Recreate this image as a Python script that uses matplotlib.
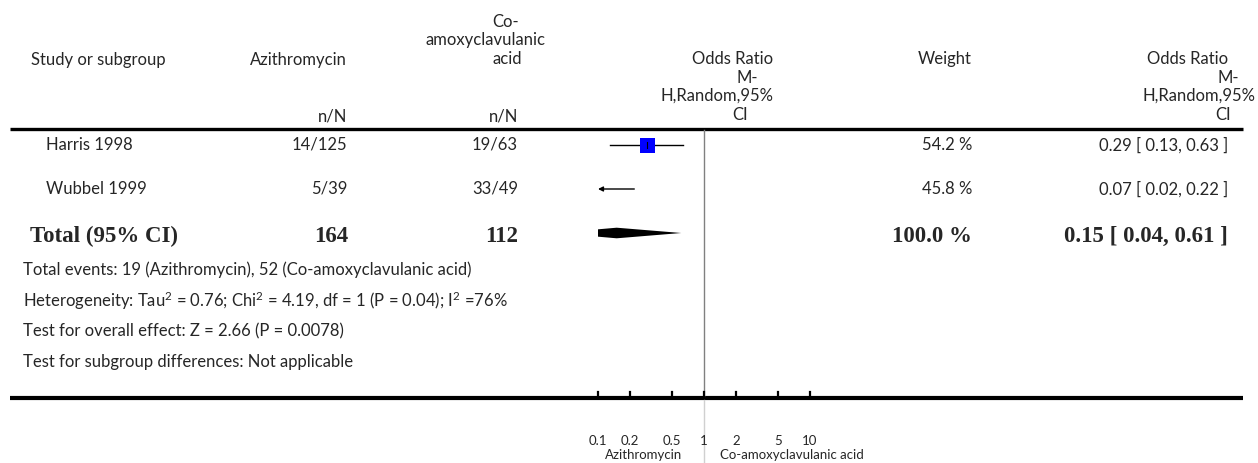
import numpy as np
import matplotlib
matplotlib.use('Agg')
import matplotlib.pyplot as plt

# data
studies = ['Harris 1998', 'Wubbel 1999']
azi_nN = ['14/125', '5/39']
coa_nN = ['19/63', '33/49']
weights = [54.2, 45.8]
or_est = [0.29, 0.07]
ci_lo = [0.13, 0.02]
ci_hi = [0.63, 0.22]
total_azi = 164
total_coa = 112
total_or = 0.15
total_lo = 0.04
total_hi = 0.61
ticks = [0.1, 0.2, 0.5, 1, 2, 5, 10]
tick_labels = ['0.1', '0.2', '0.5', '1', '2', '5', '10']
footer = [
    'Total events: 19 (Azithromycin), 52 (Co-amoxyclavulanic acid)',
    'Heterogeneity: Tau$^2$ = 0.76; Chi$^2$ = 4.19, df = 1 (P = 0.04); I$^2$ =76%',
    'Test for overall effect: Z = 2.66 (P = 0.0078)',
    'Test for subgroup differences: Not applicable',
]

W, H = 1258, 463
plt.rcParams['font.family'] = ['Lato', 'DejaVu Sans']
plt.rcParams['mathtext.fontset'] = 'custom'
plt.rcParams['mathtext.rm'] = 'Lato'
plt.rcParams['mathtext.it'] = 'Lato'
fig = plt.figure(figsize=(W / 100, H / 100), dpi=100)

bg = fig.add_axes([0, 0, 1, 1])
bg.set_xlim(0, W)
bg.set_ylim(H, 0)
bg.axis('off')

fs = 12
col = '#262626'


def T(x, y, s, ha='left', size=fs, **kw):
    bg.text(x, y, s, ha=ha, va='center', fontsize=size, color=col, **kw)


# header
T(31, 60, 'Study or subgroup')
T(347, 60, 'Azithromycin', ha='right')
T(347, 117, 'n/N', ha='right')
T(506, 22, 'Co-', ha='center')
T(485, 40, 'amoxyclavulanic', ha='center')
T(507, 59, 'acid', ha='center')
T(518, 117, 'n/N', ha='right')
T(773, 59, 'Odds Ratio', ha='right')
T(758, 78, 'M-', ha='right')
T(773, 96, 'H,Random,95%', ha='right')
T(748, 115, 'CI', ha='right')
T(972, 59, 'Weight', ha='right')
T(1228, 59, 'Odds Ratio', ha='right')
T(1239, 78, 'M-', ha='right')
T(1256, 96, 'H,Random,95%', ha='right')
T(1231, 115, 'CI', ha='right')

bg.plot([10, 1243], [128.5, 128.5], color='black', lw=2.4, solid_capstyle='butt')
bg.plot([10, 1243], [398, 398], color='black', lw=3, solid_capstyle='butt')

# study rows
row_y = [145, 189]
for i in range(len(studies)):
    y = row_y[i]
    T(46, y, studies[i])
    T(347, y, azi_nN[i], ha='right')
    T(518, y, coa_nN[i], ha='right')
    T(972, y, '%.1f %%' % weights[i], ha='right')
    T(1228, y, '%.2f [ %.2f, %.2f ]' % (or_est[i], ci_lo[i], ci_hi[i]), ha='right')

# total row
ty = 236
bold = dict(family='Liberation Serif', fontweight='bold', size=16.5)
T(30, ty, 'Total (95% CI)', **bold)
T(348, ty, str(total_azi), ha='right', **bold)
T(518, ty, str(total_coa), ha='right', **bold)
T(972, ty, '100.0 %', ha='right', **bold)
T(1228, ty, '%.2f [ %.2f, %.2f ]' % (total_or, total_lo, total_hi), ha='right', **bold)

for j, s in enumerate(footer):
    T(23, 270 + 30.5 * j, s)

# forest plot axes
x0, x1 = 598, 810
fa = fig.add_axes([x0 / W, 0, (x1 - x0) / W, 1])
fa.set_xscale('log')
fa.set_xlim(0.1, 10)
fa.set_ylim(H, 0)
fa.axis('off')

fa.plot([1, 1], [130, 396], color='#808080', lw=1)
fa.plot([1, 1], [400, H], color='#d0d0d0', lw=1)

xmin = 0.1
for i in range(len(studies)):
    y = row_y[i]
    if ci_lo[i] >= xmin:
        fa.plot([ci_lo[i], ci_hi[i]], [y, y], color='black', lw=1)
    else:
        fa.annotate('', xy=(xmin, y), xytext=(ci_hi[i], y),
                    arrowprops=dict(arrowstyle='-|>', color='black', lw=1,
                                    mutation_scale=7, shrinkA=0, shrinkB=0))
    if or_est[i] >= xmin:
        side = 15 * np.sqrt(weights[i] / 54.2)
        fa.plot([or_est[i]], [y], marker='s', markersize=side * 0.72,
                color='#0000ff', markeredgewidth=0)
        fa.plot([or_est[i], or_est[i]], [y - 3, y + 3], color='black', lw=0.8)

dy = 5.3
fa.fill([total_lo, total_or, total_hi, total_or],
        [233, 233 - dy, 233, 233 + dy], color='black', lw=0)

for t in ticks:
    fa.plot([t, t], [392, 398], color='black', lw=1.6, clip_on=False)
for t, lab in zip(ticks, tick_labels):
    fa.text(t, 441, lab, ha='center', va='center', fontsize=9.5, color=col, clip_on=False)

T(682, 455, 'Azithromycin', ha='right', size=9.5)
T(720, 455, 'Co-amoxyclavulanic acid', ha='left', size=9.5)

fig.savefig('out.png', dpi=100)
